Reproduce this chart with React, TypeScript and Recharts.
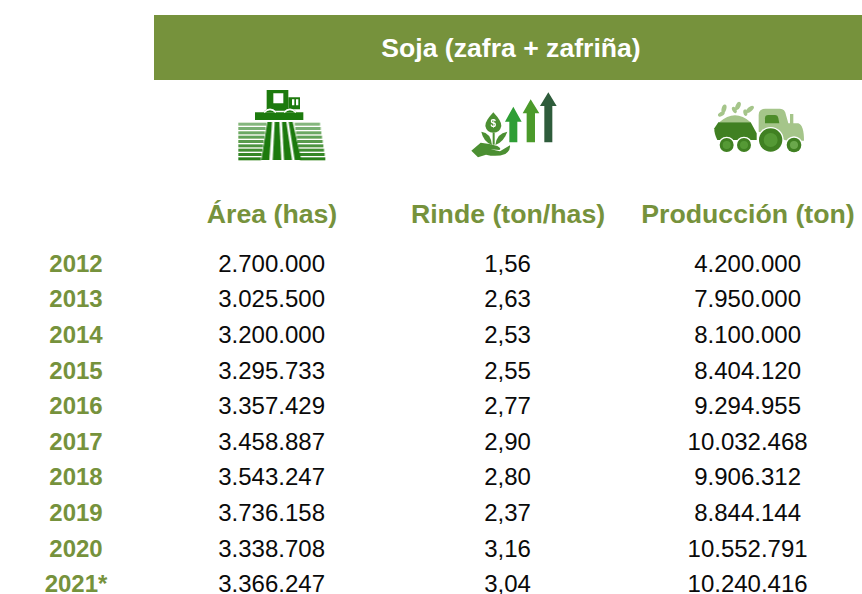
import { ScatterChart, Scatter, XAxis, YAxis } from 'recharts';

const GREEN = '#76923C';
const FONT = '"Liberation Sans", Arial, sans-serif';

const title = 'Soja (zafra + zafriña)';
const years = ['2012', '2013', '2014', '2015', '2016', '2017', '2018', '2019', '2020', '2021*'];
const columns = ['Área (has)', 'Rinde (ton/has)', 'Producción (ton)'];
const area = [2700000, 3025500, 3200000, 3295733, 3357429, 3458887, 3543247, 3736158, 3338708, 3366247];
const rinde = [1.56, 2.63, 2.53, 2.55, 2.77, 2.9, 2.8, 2.37, 3.16, 3.04];
const produccion = [4200000, 7950000, 8100000, 8404120, 9294955, 10032468, 9906312, 8844144, 10552791, 10240416];

const miles = (n: number) => String(n).replace(/\B(?=(\d{3})+$)/g, '.');
const coma = (n: number) => n.toFixed(2).replace('.', ',');

const cells = years.flatMap((year, i) => [
  { year, col: columns[0], label: miles(area[i]) },
  { year, col: columns[1], label: coma(rinde[i]) },
  { year, col: columns[2], label: miles(produccion[i]) },
]);

// la ultima columna esta un poco corrida a la derecha en el original
const colShift = (col: string) => (col === columns[2] ? 4 : 0);

const Cell = (props: any) => (
  <text
    x={props.cx + colShift(props.payload.col) - 0.4}
    y={props.cy + 8}
    textAnchor="middle"
    fontFamily={FONT}
    fontSize={24}
    fill="#0a0a0a"
  >
    {props.payload.label}
  </text>
);

const ColumnTick = (props: any) => (
  <text
    x={props.x + colShift(props.payload.value)}
    y={223}
    textAnchor="middle"
    fontFamily={FONT}
    fontSize={26.7}
    fontWeight="bold"
    fill={GREEN}
  >
    {props.payload.value}
  </text>
);

const YearTick = (props: any) => (
  <text x={76} y={props.y + 8} textAnchor="middle" fontFamily={FONT} fontSize={24} fontWeight="bold" fill={GREEN}>
    {props.payload.value}
  </text>
);

const HarvesterIcon = () => (
  <g transform="translate(220 80) scale(0.3333)" fill="#1F7A0E" filter="url(#soft)">
    <path fillRule="evenodd" d="M140 30H205V92H140ZM160 40V70H190V40Z" />
    <path fillRule="evenodd" d="M205 52H240V88H205ZM216 58V76H223V58ZM228 58V76H235V58Z" />
    <path d="M105 97H250V120H105Z" />
    <path d="M130 97Q150 72 170 97H190Q210 72 230 97Z" />
    <path d="M132 97Q150 80 168 97M192 97Q210 80 228 97" fill="none" stroke="#fff" strokeWidth={5} />
    {[128, 141, 154, 167, 180, 193, 206, 219, 232].map((y, i) => (
      <g key={y} opacity={0.55 + i * 0.05}>
        <rect x={55} y={y} width={84 - i * 2} height={9} />
        <rect x={224 + i * 2} y={y} width={76} height={9} />
      </g>
    ))}
    <path d="M142 126H156L148 240H124Z" />
    <path d="M164 126H178L184 240H158Z" />
    <path d="M186 126H199L216 240H192Z" />
    <path d="M206 126H218L244 240H224Z" />
  </g>
);

const PlantIcon = () => (
  <g transform="translate(460 80) scale(0.3333)" filter="url(#soft)">
    <path fill="#2F9E35" d="M160 80L185 125H172V187H148V125H135Z" />
    <path fill="#4C9A2A" d="M212 58L238 100H225V187H200V100H188Z" />
    <path fill="#2E5C3A" d="M265 37L290 78H277V187H253V78H240Z" />
    <path fill="#4C8F30" d="M100 97Q126 125 124 138Q120 158 100 158Q80 158 76 138Q74 125 100 97Z" />
    <text x={100} y={141} textAnchor="middle" fontFamily={FONT} fontWeight="bold" fontSize={30} fill="#fff">
      $
    </text>
    <path fill="#4C8F30" d="M96 195Q70 185 64 155Q92 158 96 195Z" />
    <path fill="#4C8F30" d="M106 195Q132 185 142 155Q110 160 106 195Z" />
    <rect x={98} y={158} width={6} height={36} fill="#4C8F30" />
    <path fill="#4C8F30" d="M34 212L62 188Q90 190 112 198Q126 206 118 210L92 208L120 214L150 196Q152 212 136 222Q110 232 78 224L54 232Z" />
  </g>
);

const TractorIcon = () => (
  <g transform="translate(700 90) scale(0.3333)" filter="url(#soft)">
    <g fill="#A5C58A">
      <ellipse cx={72} cy={56} rx={7} ry={13} transform="rotate(15 72 56)" />
      <ellipse cx={64} cy={72} rx={6} ry={11} transform="rotate(60 64 72)" />
      <ellipse cx={114} cy={48} rx={7} ry={13} transform="rotate(25 114 48)" />
      <ellipse cx={103} cy={60} rx={6} ry={10} transform="rotate(-30 103 60)" />
      <ellipse cx={150} cy={58} rx={7} ry={14} transform="rotate(50 150 58)" />
      <ellipse cx={136} cy={68} rx={6} ry={10} transform="rotate(-10 136 68)" />
      <path d="M58 97Q105 55 152 97Z" />
      <path d="M176 125V75Q176 56 196 56H240Q255 56 258 75L265 100H295Q312 105 312 152H262Z" />
      <rect x={270} y={72} width={10} height={30} />
    </g>
    <path fill="#3F8020" d="M55 97H152L170 130V150H52Q42 130 43 115Z" />
    <path fill="#4D8C2C" d="M195 100V85Q195 75 205 75H225Q233 75 235 85L238 100Z" />
    {[80, 132].map((cx) => (
      <g key={cx}>
        <circle cx={cx} cy={165} r={25} fill="#fff" />
        <circle cx={cx} cy={165} r={21} fill="#3F8020" />
        <circle cx={cx} cy={165} r={12} fill="#559936" />
      </g>
    ))}
    <circle cx={212} cy={150} r={39} fill="#fff" />
    <circle cx={212} cy={150} r={35} fill="#3F8020" />
    <circle cx={212} cy={150} r={21} fill="#559936" />
    <circle cx={282} cy={165} r={26} fill="#fff" />
    <circle cx={282} cy={165} r={22} fill="#3F8020" />
    <circle cx={282} cy={165} r={12} fill="#6BA84C" />
  </g>
);

export default function App() {
  return (
    <div style={{ position: 'absolute', left: 0, top: 0, width: 862, height: 594, overflow: 'hidden', background: '#fff' }}>
      <ScatterChart width={862} height={640} data={cells} margin={{ top: 0, right: 0, bottom: 38, left: 0 }}>
        <defs>
          <filter id="soft">
            <feGaussianBlur stdDeviation="0.5" />
          </filter>
        </defs>
        <rect x={154} y={15} width={708} height={65} fill={GREEN} />
        <text x={511} y={57} textAnchor="middle" fontFamily={FONT} fontSize={26.6} fontWeight="bold" fill="#fff">
          {title}
        </text>
        <HarvesterIcon />
        <PlantIcon />
        <TractorIcon />
        <XAxis
          xAxisId={0}
          type="category"
          dataKey="col"
          orientation="top"
          height={246}
          allowDuplicatedCategory={false}
          interval={0}
          axisLine={false}
          tickLine={false}
          tick={<ColumnTick />}
        />
        <YAxis
          yAxisId={0}
          type="category"
          dataKey="year"
          width={154}
          allowDuplicatedCategory={false}
          interval={0}
          reversed
          axisLine={false}
          tickLine={false}
          tick={<YearTick />}
        />
        <Scatter data={cells} dataKey="label" isAnimationActive={false} shape={<Cell />} />
      </ScatterChart>
    </div>
  );
}
